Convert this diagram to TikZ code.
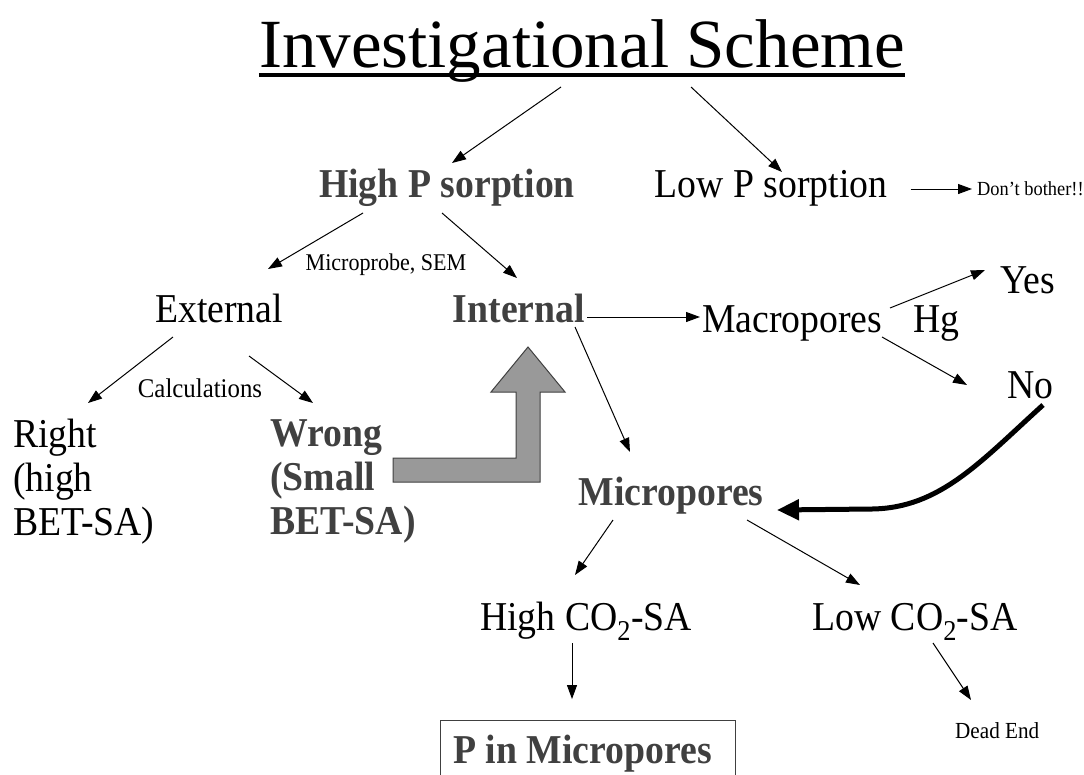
\documentclass[tikz,border=0pt]{standalone}
\usepackage{fontspec}
\setmainfont{Liberation Serif}[FakeStretch=0.92]
\newfontfamily\headfont{Liberation Serif}
\usepackage{tikz}
\usetikzlibrary{
	arrows.meta
}

\definecolor{ink}{RGB}{64,64,64}
\definecolor{blockgray}{RGB}{153,153,153}

\tikzset{
	txt/.style={inner sep=0pt,anchor=base,font=\fontsize{41}{44}\selectfont},
	hot/.style={txt,font=\fontsize{41}{44}\selectfont\bfseries,text=ink},
	note/.style={inner sep=0pt,anchor=base,font=\fontsize{24}{28}\selectfont},
	link/.style={-{Triangle[length=14pt,width=10pt]},line width=1pt},
	thick link/.style={-{Triangle[length=22pt,width=20pt]},line width=5pt}
}

\begin{document}
\begin{tikzpicture}[x=1pt,y=-1pt]
		\useasboundingbox (0,0) rectangle (1084,774);

		\draw
			node[txt,font=\headfont\fontsize{69}{74}\selectfont] (title) at (582,67) {Investigational Scheme}
			node[hot]                                   (high)  at (447,197) {High P sorption}
			node[txt]                                   (low)   at (771,197) {Low P sorption}
			node[note,anchor=base west,font=\fontsize{20}{22}\selectfont] (bother) at (977,195) {Don’t bother!!}
			node[note]                                  (probe) at (386,270) {Microprobe, SEM}
			node[txt]                                   (ext)   at (219,322) {External}
			node[hot]                                   (int)   at (519,322) {Internal}
			node[txt,anchor=base west]                  (macro) at (702,332) {Macropores}
			node[txt,anchor=base west]                  (hg)    at (913,332) {Hg}
			node[txt,anchor=base west]                  (yes)   at (1000,293) {Yes}
			node[txt,anchor=base west]                  (no)    at (1007,398) {No}
			node[note,font=\fontsize{27}{30}\selectfont] (calc) at (200,397) {Calculations}
			node[txt,anchor=north west,align=left]      (right) at (13,419) {Right\\(high\\BET-SA)}
			node[hot,anchor=north west,align=left]      (wrong) at (270,419) {Wrong\\(Small\\BET-SA)}
			node[hot]                                   (micro) at (671,505) {Micropores}
			node[txt]                                   (highco) at (586,630) {High CO\textsubscript{2}-SA}
			node[txt]                                   (lowco) at (915,630) {Low CO\textsubscript{2}-SA}
			node[note,anchor=base west,font=\fontsize{23}{26}\selectfont] (dead) at (955,738) {Dead End}
			node[hot,anchor=base west,draw=ink,line width=1pt,inner xsep=13pt,inner ysep=14pt]
				(pbox) at (440,763) {\makebox[269pt][l]{P in Micropores}}

			([shift={(-21,20)}]title.base)  edge[link] ([shift={(5,-34)}]high.base)
			([shift={(109,20)}]title.base)  edge[link] ([shift={(11,-25)}]low.base)
			([shift={(23,-8)}]low.base east) edge[link] ([shift={(-5,-6)}]bother.base west)
			([shift={(-84,16)}]high.base)   edge[link] ([shift={(49,-53)}]ext.base)
			([shift={(-5,16)}]high.base)    edge[link] ([shift={(-2,-44)}]int.base)
			([shift={(2,-5)}]int.base east) edge[link] ([shift={(-2,-15)}]macro.base west)
			([shift={(188,-24)}]macro.base west) edge[link] ([shift={(-15,-23)}]yes.base west)
			([shift={(180,5)}]macro.base west)   edge[link] ([shift={(-40,-13)}]no.base west)
			([shift={(56,5)}]int.base)      edge[link] ([shift={(-41,-53)}]micro.base)
			([shift={(-46,15)}]ext.base)    edge[link] ([shift={(75,-16)}]right.north west)
			([shift={(30,34)}]ext.base)     edge[link] ([shift={(43,-16)}]wrong.north west)
			([shift={(-58,15)}]micro.base)  edge[link] ([shift={(-11,-55)}]highco.base)
			([shift={(76,15)}]micro.base)   edge[link] ([shift={(-55,-45)}]lowco.base)
			([shift={(-14,13)}]highco.base) edge[link] ([shift={(132,-21)}]pbox.north west)
			([shift={(18,13)}]lowco.base)   edge[link] ([shift={(16,-38)}]dead.base west)
		;

		% underline of the title
		\draw[line width=3.5pt] ([yshift=-8pt]title.base west) -- ([yshift=-8pt]title.base east);

		% No goes back to the micropores
		\draw[thick link] ([shift={(36,7)}]no.base west) .. controls (980,462) and (940,508) .. (872,509)
			-- ([shift={(106,5)}]micro.base);

		% big grey arrow from Wrong up to Internal
		\draw[draw=ink,fill=blockgray,line width=1pt]
			(393,458) -- (516,458) -- (516,392) -- (491,392) -- (528,347) -- (565,392)
			-- (540,392) -- (540,482) -- (393,482) -- cycle;
\end{tikzpicture}
\end{document}
